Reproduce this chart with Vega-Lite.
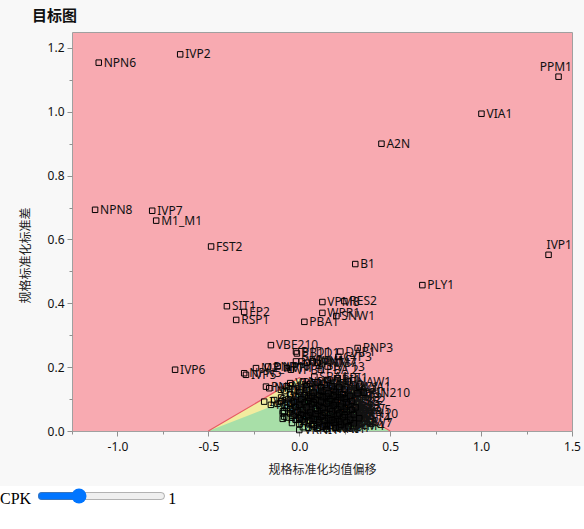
{
  "$schema": "https://vega.github.io/schema/vega-lite/v6.json",
  "autosize": {"type": "none"},
  "padding": {"left": 72, "top": 32, "right": 12, "bottom": 55},
  "width": 500,
  "height": 399,
  "background": "#F8F8F8",
  "title": {"text": "目标图", "anchor": "start", "frame": "group", "dx": -40, "offset": 8, "font": "Noto Sans CJK SC", "fontSize": 15, "fontWeight": "bold", "color": "#111"},
  "params": [{"name": "CPK", "value": 1, "bind": {"input": "range", "min": 0, "max": 3.3, "step": 0.01, "name": "CPK "}}],
  "config": {
    "view": {"fill": "#F8AAB1", "stroke": "#A0A0A0", "strokeWidth": 1},
    "axis": {"domain": false, "grid": false, "tickColor": "#909090", "labelFont": "Noto Sans", "labelFontSize": 12, "labelColor": "#111", "titleFont": "Noto Sans CJK SC", "titleFontSize": 12, "titleFontWeight": "normal", "titleColor": "#222"}
  },
  "datasets": {
    "tri": [
      {"x": -0.5, "y": 0, "zone": "yellow"}, {"x": 0, "y": 0.1667, "zone": "yellow"}, {"x": 0.5, "y": 0, "zone": "yellow"},
      {"x": -0.5, "y": 0, "zone": "green"}, {"x": 0, "y": 0.1111, "zone": "green"}, {"x": 0.5, "y": 0, "zone": "green"}
    ],
    "pts": [
      {"x": -1.103, "y": 1.154, "label": "NPN6"},
      {"x": -0.655, "y": 1.18, "label": "IVP2"},
      {"x": -1.123, "y": 0.693, "label": "NPN8"},
      {"x": -0.809, "y": 0.69, "label": "IVP7"},
      {"x": -0.787, "y": 0.659, "label": "M1_M1"},
      {"x": -0.485, "y": 0.578, "label": "FST2"},
      {"x": 1.426, "y": 1.11, "label": "PPM1"},
      {"x": 1.002, "y": 0.994, "label": "VIA1"},
      {"x": 0.452, "y": 0.9, "label": "A2N"},
      {"x": 1.371, "y": 0.552, "label": "IVP1"},
      {"x": 0.308, "y": 0.523, "label": "B1"},
      {"x": 0.677, "y": 0.457, "label": "PLY1"},
      {"x": 0.127, "y": 0.404, "label": "VPM8"},
      {"x": 0.248, "y": 0.407, "label": "RES2"},
      {"x": 0.127, "y": 0.37, "label": "WPR1"},
      {"x": 0.204, "y": 0.36, "label": "SNW1"},
      {"x": 0.028, "y": 0.342, "label": "PBA1"},
      {"x": -0.398, "y": 0.391, "label": "SIT1"},
      {"x": -0.303, "y": 0.373, "label": "EP2"},
      {"x": -0.347, "y": 0.348, "label": "RSP1"},
      {"x": -0.156, "y": 0.269, "label": "VBE210"},
      {"x": -0.683, "y": 0.192, "label": "IVP6"},
      {"x": -0.018, "y": 0.249, "label": "B1D1"},
      {"x": -0.013, "y": 0.243, "label": "PB1D1"},
      {"x": -0.303, "y": 0.181, "label": "NPN5"},
      {"x": -0.293, "y": 0.176, "label": "IVP5"},
      {"x": -0.238, "y": 0.197, "label": "M2_AP"},
      {"x": -0.171, "y": 0.202, "label": "PNP11"},
      {"x": -0.119, "y": 0.202, "label": "NPN14"},
      {"x": -0.068, "y": 0.197, "label": "VP1"},
      {"x": -0.046, "y": 0.192, "label": "VPB1"},
      {"x": -0.018, "y": 0.218, "label": "RPB1"},
      {"x": 0.013, "y": 0.218, "label": "WNM1"},
      {"x": 0.042, "y": 0.214, "label": "NPN7"},
      {"x": 0.074, "y": 0.218, "label": "WNM7"},
      {"x": 0.101, "y": 0.214, "label": "PNM7"},
      {"x": 0.156, "y": 0.202, "label": "IVP13"},
      {"x": 0.226, "y": 0.249, "label": "DAP1"},
      {"x": 0.215, "y": 0.232, "label": "CYP3"},
      {"x": 0.321, "y": 0.26, "label": "PNP3"},
      {"x": 0.119, "y": 0.192, "label": "PBA 2"},
      {"x": 0.083, "y": 0.17, "label": "SBA1"},
      {"x": 0.156, "y": 0.16, "label": "NBI1"},
      {"x": 0.211, "y": 0.165, "label": "SBI1"},
      {"x": 0.267, "y": 0.155, "label": "INAW1"},
      {"x": 0.33, "y": 0.139, "label": "LYA1"},
      {"x": 0.356, "y": 0.12, "label": "PIN210"},
      {"x": -0.183, "y": 0.139, "label": "PNP12"},
      {"x": -0.165, "y": 0.134, "label": "NPN15"},
      {"x": -0.193, "y": 0.092, "label": "IVP14"},
      {"x": -0.156, "y": 0.082, "label": "RES9"},
      {"x": -0.138, "y": 0.097, "label": "SNW8"},
      {"x": -0.101, "y": 0.129, "label": "PBA9"},
      {"x": -0.083, "y": 0.045, "label": "SIT8"},
      {"x": -0.091, "y": 0.056, "label": "NAW7"},
      {"x": -0.082, "y": 0.061, "label": "PLY8"},
      {"x": 0.0, "y": 0.035, "label": "B8"},
      {"x": -0.091, "y": 0.038, "label": "FST7"},
      {"x": -0.05, "y": 0.15, "label": "VPM1"},
      {"x": 0.02, "y": 0.155, "label": "NPN2"},
      {"x": 0.06, "y": 0.148, "label": "PNP5"},
      {"x": 0.1, "y": 0.152, "label": "INM1"},
      {"x": 0.14, "y": 0.145, "label": "SNW2"},
      {"x": 0.18, "y": 0.14, "label": "RSP2"},
      {"x": 0.22, "y": 0.138, "label": "NAW1"},
      {"x": 0.25, "y": 0.13, "label": "PLY2"},
      {"x": -0.08, "y": 0.125, "label": "IVP3"},
      {"x": -0.03, "y": 0.13, "label": "NPN3"},
      {"x": 0.0, "y": 0.122, "label": "PNP2"},
      {"x": 0.04, "y": 0.128, "label": "VBE1"},
      {"x": 0.08, "y": 0.12, "label": "RES3"},
      {"x": 0.12, "y": 0.126, "label": "M2_M2"},
      {"x": 0.16, "y": 0.118, "label": "PBA3"},
      {"x": 0.2, "y": 0.122, "label": "SIT2"},
      {"x": 0.24, "y": 0.115, "label": "VIA2"},
      {"x": 0.28, "y": 0.11, "label": "FST1"},
      {"x": 0.32, "y": 0.118, "label": "DN1"},
      {"x": -0.1, "y": 0.105, "label": "IVP4"},
      {"x": -0.06, "y": 0.1, "label": "NPN4"},
      {"x": -0.02, "y": 0.108, "label": "PNP4"},
      {"x": 0.01, "y": 0.1, "label": "VPM2"},
      {"x": 0.05, "y": 0.104, "label": "B2"},
      {"x": 0.09, "y": 0.098, "label": "A1N"},
      {"x": 0.13, "y": 0.106, "label": "PPM2"},
      {"x": 0.17, "y": 0.1, "label": "EP1"},
      {"x": 0.21, "y": 0.097, "label": "RSP3"},
      {"x": 0.25, "y": 0.102, "label": "WPR2"},
      {"x": 0.29, "y": 0.095, "label": "VBE2"},
      {"x": -0.12, "y": 0.085, "label": "INM2"},
      {"x": -0.08, "y": 0.08, "label": "NPN9"},
      {"x": -0.04, "y": 0.088, "label": "PNP6"},
      {"x": 0.0, "y": 0.082, "label": "VPM3"},
      {"x": 0.03, "y": 0.09, "label": "IVP8"},
      {"x": 0.07, "y": 0.084, "label": "RES4"},
      {"x": 0.11, "y": 0.079, "label": "SNW3"},
      {"x": 0.15, "y": 0.086, "label": "PBA4"},
      {"x": 0.19, "y": 0.08, "label": "SIT3"},
      {"x": 0.23, "y": 0.076, "label": "NAW2"},
      {"x": 0.27, "y": 0.083, "label": "PLY3"},
      {"x": 0.31, "y": 0.074, "label": "B3"},
      {"x": -0.09, "y": 0.062, "label": "FST3"},
      {"x": -0.05, "y": 0.068, "label": "M1_M2"},
      {"x": -0.01, "y": 0.06, "label": "VIA3"},
      {"x": 0.02, "y": 0.066, "label": "A2P"},
      {"x": 0.06, "y": 0.058, "label": "PPM3"},
      {"x": 0.1, "y": 0.064, "label": "EP3"},
      {"x": 0.14, "y": 0.057, "label": "RSP4"},
      {"x": 0.18, "y": 0.062, "label": "WPR3"},
      {"x": 0.22, "y": 0.055, "label": "VBE3"},
      {"x": 0.26, "y": 0.06, "label": "INM3"},
      {"x": 0.3, "y": 0.052, "label": "NPN10"},
      {"x": -0.07, "y": 0.042, "label": "PNP7"},
      {"x": -0.03, "y": 0.048, "label": "VPM4"},
      {"x": 0.0, "y": 0.04, "label": "IVP9"},
      {"x": 0.04, "y": 0.046, "label": "RES5"},
      {"x": 0.08, "y": 0.038, "label": "SNW4"},
      {"x": 0.12, "y": 0.045, "label": "PBA5"},
      {"x": 0.16, "y": 0.04, "label": "SIT4"},
      {"x": 0.2, "y": 0.036, "label": "NAW3"},
      {"x": 0.24, "y": 0.043, "label": "PLY4"},
      {"x": 0.28, "y": 0.035, "label": "B4"},
      {"x": 0.33, "y": 0.04, "label": "FST4"},
      {"x": -0.04, "y": 0.025, "label": "M2_M3"},
      {"x": 0.0, "y": 0.022, "label": "VIA4"},
      {"x": 0.03, "y": 0.03, "label": "A1P"},
      {"x": 0.07, "y": 0.02, "label": "PPM4"},
      {"x": 0.11, "y": 0.028, "label": "EP4"},
      {"x": 0.15, "y": 0.018, "label": "RSP5"},
      {"x": 0.19, "y": 0.026, "label": "WPR4"},
      {"x": 0.23, "y": 0.02, "label": "VBE4"},
      {"x": 0.27, "y": 0.015, "label": "INM4"},
      {"x": 0.0, "y": 0.003, "label": "VRNI1"},
      {"x": 0.05, "y": 0.01, "label": "PRNI1"},
      {"x": 0.1, "y": 0.008, "label": "NRNI1"},
      {"x": 0.15, "y": 0.006, "label": "TRNI1"},
      {"x": 0.2, "y": 0.01, "label": "CAP1"},
      {"x": -0.07, "y": 0.14, "label": "NPN11"},
      {"x": 0.04, "y": 0.14, "label": "PNP8"},
      {"x": 0.12, "y": 0.137, "label": "IVP10"},
      {"x": 0.19, "y": 0.13, "label": "RES6"},
      {"x": -0.05, "y": 0.115, "label": "SNW5"},
      {"x": 0.03, "y": 0.112, "label": "PBA6"},
      {"x": 0.07, "y": 0.11, "label": "SIT5"},
      {"x": 0.11, "y": 0.113, "label": "NAW4"},
      {"x": 0.15, "y": 0.108, "label": "PLY5"},
      {"x": 0.19, "y": 0.11, "label": "B5"},
      {"x": 0.23, "y": 0.105, "label": "FST5"},
      {"x": -0.1, "y": 0.093, "label": "M1_M3"},
      {"x": -0.03, "y": 0.092, "label": "VIA5"},
      {"x": 0.05, "y": 0.094, "label": "A2Q"},
      {"x": 0.08, "y": 0.09, "label": "PPM5"},
      {"x": 0.12, "y": 0.092, "label": "EP5"},
      {"x": 0.16, "y": 0.093, "label": "RSP6"},
      {"x": 0.2, "y": 0.09, "label": "WPR5"},
      {"x": 0.26, "y": 0.09, "label": "VBE5"},
      {"x": -0.07, "y": 0.072, "label": "INM5"},
      {"x": -0.02, "y": 0.075, "label": "NPN12"},
      {"x": 0.04, "y": 0.074, "label": "PNP9"},
      {"x": 0.09, "y": 0.07, "label": "IVP11"},
      {"x": 0.13, "y": 0.072, "label": "RES7"},
      {"x": 0.17, "y": 0.07, "label": "SNW6"},
      {"x": 0.21, "y": 0.068, "label": "PBA7"},
      {"x": 0.25, "y": 0.07, "label": "SIT6"},
      {"x": 0.29, "y": 0.066, "label": "NAW5"},
      {"x": -0.05, "y": 0.055, "label": "PLY6"},
      {"x": 0.01, "y": 0.052, "label": "B6"},
      {"x": 0.05, "y": 0.05, "label": "FST6"},
      {"x": 0.09, "y": 0.053, "label": "M2_M4"},
      {"x": 0.13, "y": 0.05, "label": "VIA6"},
      {"x": 0.17, "y": 0.052, "label": "A1Q"},
      {"x": 0.21, "y": 0.048, "label": "PPM6"},
      {"x": 0.25, "y": 0.05, "label": "EP6"},
      {"x": -0.02, "y": 0.035, "label": "RSP7"},
      {"x": 0.02, "y": 0.036, "label": "WPR6"},
      {"x": 0.06, "y": 0.032, "label": "VBE6"},
      {"x": 0.1, "y": 0.036, "label": "INM6"},
      {"x": 0.14, "y": 0.032, "label": "NPN13"},
      {"x": 0.18, "y": 0.034, "label": "PNP10"},
      {"x": 0.22, "y": 0.03, "label": "IVP12"},
      {"x": 0.26, "y": 0.028, "label": "RES8"},
      {"x": 0.3, "y": 0.024, "label": "SNW7"},
      {"x": 0.02, "y": 0.012, "label": "PBA8"},
      {"x": 0.08, "y": 0.015, "label": "SIT7"},
      {"x": 0.13, "y": 0.014, "label": "NAW6"},
      {"x": 0.17, "y": 0.016, "label": "PLY7"},
      {"x": 0.22, "y": 0.012, "label": "B7"}
    ]
  },
  "encoding": {
    "x": {"type": "quantitative", "scale": {"domain": [-1.25, 1.5], "nice": false, "zero": false},
      "axis": {"title": "规格标准化均值偏移", "values": [-1.25, -1, -0.75, -0.5, -0.25, 0, 0.25, 0.5, 0.75, 1, 1.25, 1.5],
        "labelExpr": "round(datum.value*4)%2 ? '' : replace(format(datum.value,'.1f'),'−','-')",
        "tickSize": {"condition": {"test": "round(datum.value*4)%2", "value": 3}, "value": 5},
        "labelFlush": false, "labelOverlap": false, "labelPadding": 5, "titlePadding": 12}},
    "y": {"type": "quantitative", "scale": {"domain": [0, 1.25], "nice": false, "zero": false},
      "axis": {"title": "规格标准化标准差", "values": [0, 0.1, 0.2, 0.3, 0.4, 0.5, 0.6, 0.7, 0.8, 0.9, 1.0, 1.1, 1.2],
        "labelExpr": "round(datum.value*10)%2 ? '' : format(datum.value,'.1f')",
        "tickSize": {"condition": {"test": "round(datum.value*10)%2", "value": 3}, "value": 5},
        "labelFlush": false, "labelOverlap": false, "labelPadding": 3,
        "titleX": -47, "titleY": 223, "titleBaseline": "middle", "titleAngle": -90}}
  },
  "layer": [
    {"data": {"name": "tri"},
     "transform": [{"filter": "datum.zone == 'yellow'"}],
     "mark": {"type": "area", "color": "#F2EC9F", "opacity": 1},
     "encoding": {"x": {"field": "x"}, "y": {"field": "y", "stack": null}}},
    {"data": {"name": "tri"},
     "transform": [{"filter": "datum.zone == 'green'"}],
     "mark": {"type": "area", "color": "#A8DFA8", "opacity": 1},
     "encoding": {"x": {"field": "x"}, "y": {"field": "y", "stack": null}}},
    {"data": {"name": "tri"},
     "transform": [{"filter": "datum.zone == 'yellow'"}],
     "mark": {"type": "line", "color": "#E65A64", "strokeWidth": 1.2},
     "encoding": {"x": {"field": "x"}, "y": {"field": "y"}}},
    {"data": {"name": "pts"},
     "transform": [{"filter": "datum.label != 'PPM1' && datum.label != 'IVP1'"}],
     "mark": {"type": "text", "align": "left", "baseline": "middle", "dx": 5, "font": "Noto Sans", "fontSize": 12, "color": "#111"},
     "encoding": {"x": {"field": "x"}, "y": {"field": "y"}, "text": {"field": "label"}}},
    {"data": {"name": "pts"},
     "transform": [{"filter": "datum.label == 'PPM1' || datum.label == 'IVP1'"}],
     "mark": {"type": "text", "align": "right", "baseline": "middle", "dy": -10, "font": "Noto Sans", "fontSize": 12, "color": "#111"},
     "encoding": {"x": {"datum": 1.5}, "y": {"field": "y"}, "text": {"field": "label"}}},
    {"data": {"name": "pts"},
     "mark": {"type": "point", "shape": "square", "filled": false, "size": 30, "stroke": "#000", "strokeWidth": 1, "opacity": 1},
     "encoding": {"x": {"field": "x"}, "y": {"field": "y"}}}
  ]
}
